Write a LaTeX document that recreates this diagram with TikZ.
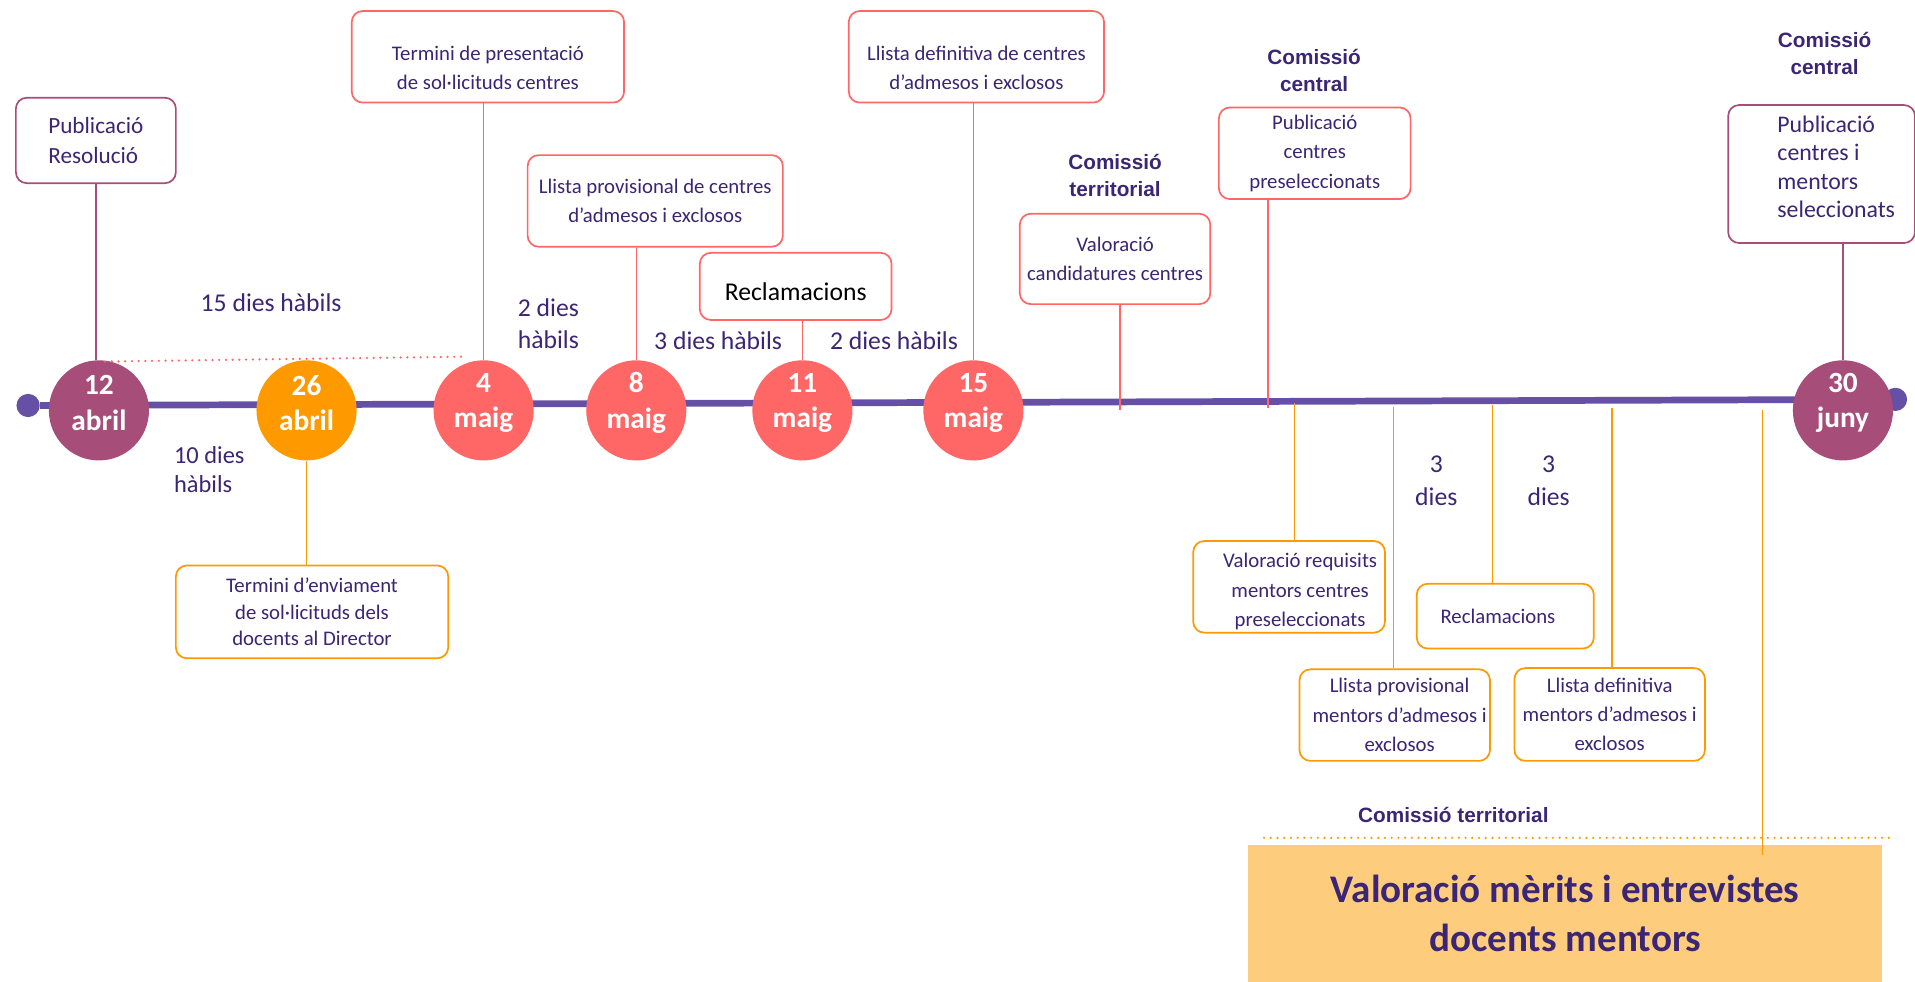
\documentclass[tikz,border=0pt]{standalone}
\usepackage{fontspec}
\setmainfont{Carlito}
\newfontfamily\arialfont{Liberation Sans}
\usetikzlibrary{calc}

\definecolor{tlpurple}{RGB}{101,80,166}
\definecolor{txtpurple}{RGB}{58,38,116}
\definecolor{plum}{RGB}{166,77,121}
\definecolor{salmon}{RGB}{255,102,102}
\definecolor{orng}{RGB}{255,153,0}
\definecolor{lightorng}{RGB}{253,204,125}

\begin{document}
\begin{tikzpicture}[x=1pt,y=-1pt,
  day/.style={circle,minimum size=82pt,inner sep=0pt},
  daytxt/.style={text=white,align=center,yshift=6pt,font=\fontsize{24}{29}\selectfont\bfseries},
  evt/.style={rectangle,rounded corners=9pt,draw,line width=1.4pt,fill=white,text=txtpurple,align=center,inner sep=2pt,font=\fontsize{17}{24}\selectfont},
  evtxt/.style={text=txtpurple,align=center,font=\fontsize{17}{24}\selectfont},
  dur/.style={text=txtpurple,align=center,font=\fontsize{21}{26}\selectfont},
  com/.style={text=txtpurple,align=center,font=\arialfont\bfseries\fontsize{17}{22}\selectfont},
  lnk/.style={line width=1.3pt},
  dots/.style={line width=2pt,line cap=round,dash pattern=on 0pt off 5.5pt}]
\useasboundingbox (0,0) rectangle (1568,804);
\draw (23,332) node (tstart) [circle,fill=tlpurple,minimum size=19pt,inner sep=0pt] {};
\draw (1552,327) node (tend) [circle,fill=tlpurple,minimum size=19pt,inner sep=0pt] {};
\draw [tlpurple,line width=5.5pt] (tstart) -- (tend);
\coordinate (tv) at (917,336);
\coordinate (tp) at (1038,334);
\coordinate (ta) at (1060,330);
\coordinate (tb) at (1141,333);
\coordinate (tc) at (1222,332);
\coordinate (td) at (1320,334);
\coordinate (te) at (1443,336);
\coordinate (dotA) at (86,296);
\coordinate (dotB) at (382,292);
\coordinate (dotC) at (1035,686);
\coordinate (dotD) at (1548,686);
\draw (81,336) node (d12) [day,fill=plum,label={[daytxt,name=d12-t]center:{12\\abril}}] {};
\draw (251,336) node (d26) [day,fill=orng,label={[daytxt,name=d26-t]center:{26\\abril}}] {};
\draw (396,336) node (d4) [day,fill=salmon,label={[daytxt,name=d4-t]center:{4\\maig}}] {};
\draw (521,336) node (d8) [day,fill=salmon,label={[daytxt,name=d8-t]center:{8\\maig}}] {};
\draw (657,336) node (d11) [day,fill=salmon,label={[daytxt,name=d11-t]center:{11\\maig}}] {};
\draw (797,336) node (d15) [day,fill=salmon,label={[daytxt,name=d15-t]center:{15\\maig}}] {};
\draw (1509,336) node (d30) [day,fill=plum,label={[daytxt,name=d30-t]center:{30\\juny}}] {};
\draw (78.5,115) node (pubres) [evt,draw=plum,minimum width=131pt,minimum height=70pt,align=left,font=\fontsize{19}{24}\selectfont] {Publicació\\Resolució};
\draw (399.5,46.5) node (terpre) [evt,draw=salmon,minimum width=223pt,minimum height=75pt,label={[evtxt,name=terpre-t,yshift=-9pt]center:{Termini de presentació\\de sol·licituds centres}}] {};
\draw (536.5,164.5) node (llprov) [evt,draw=salmon,minimum width=209pt,minimum height=75pt] {Llista provisional de centres\\d’admesos i exclosos};
\draw (651.5,234.5) node (recl) [evt,draw=salmon,minimum width=157pt,minimum height=55pt,label={[text=black,font=\fontsize{21}{24}\selectfont,name=recl-t,yshift=-4pt]center:Reclamacions}] {};
\draw (799.5,46.5) node (lldef) [evt,draw=salmon,minimum width=209pt,minimum height=75pt,label={[evtxt,name=lldef-t,yshift=-9pt]center:{Llista definitiva de centres\\d’admesos i exclosos}}] {};
\draw (913,212) node (valcand) [evt,draw=salmon,minimum width=156pt,minimum height=74pt] {Valoració\\candidatures centres};
\draw (1076.5,125.5) node (pubpre) [evt,draw=salmon,minimum width=157pt,minimum height=75pt] {Publicació\\centres\\preseleccionats};
\draw (1491.5,142.5) node (pubsel) [evt,draw=plum,minimum width=153pt,minimum height=113pt,label={[evtxt,align=left,font=\fontsize{19.5}{23.3}\selectfont,name=pubsel-t,xshift=12pt,yshift=6pt]center:{Publicació\\centres i\\mentors\\seleccionats}}] {};
\draw (255.5,501) node (terenv) [evt,draw=orng,minimum width=223pt,minimum height=76pt,font=\fontsize{17}{22}\selectfont] {Termini d’enviament\\de sol·licituds dels\\docents al Director};
\draw (1055.5,480.5) node (valreq) [evt,draw=orng,minimum width=157pt,minimum height=75pt,label={[evtxt,name=valreq-t,xshift=9pt,yshift=-4pt]center:{Valoració requisits\\mentors centres\\preseleccionats}}] {};
\draw (1142,585.5) node (llprovm) [evt,draw=orng,minimum width=156pt,minimum height=75pt,label={[evtxt,name=llprovm-t,xshift=4pt]center:{Llista provisional\\mentors d’admesos i\\exclosos}}] {};
\draw (1232.5,504.5) node (reclm) [evt,draw=orng,minimum width=145pt,minimum height=53pt,label={[evtxt,name=reclm-t,xshift=-6pt]center:Reclamacions}] {};
\draw (1318,585) node (lldefm) [evt,draw=orng,minimum width=156pt,minimum height=76pt] {Llista definitiva\\mentors d’admesos i\\exclosos};
\draw (1281.5,748) node (merits) [fill=lightorng,minimum width=519pt,minimum height=112pt,text=txtpurple,align=center,font=\fontsize{32}{40}\selectfont\bfseries] {Valoració mèrits i entrevistes\\docents mentors};
\draw [lnk,plum] (pubres.south) -- (pubres.south |- d12.north);
\draw [lnk,salmon] (d4.north) -- (d4.north |- terpre.south);
\draw [lnk,salmon] (d8.north) -- (d8.north |- llprov.south);
\draw [lnk,salmon] (d11.north) -- (d11.north |- recl.south);
\draw [lnk,salmon] (d15.north) -- (d15.north |- lldef.south);
\draw [lnk,salmon] (valcand.south -| tv) -- (tv);
\draw [lnk,salmon] (pubpre.south -| tp) -- (tp);
\draw [lnk,plum] (d30.north) -- (d30.north |- pubsel.south);
\draw [lnk,orng] (d26.south) -- (d26.south |- terenv.north);
\draw [lnk,orng] (ta) -- (ta |- valreq.north);
\draw [lnk,orng] (tb) -- (tb |- llprovm.north);
\draw [lnk,orng] (tc) -- (tc |- reclm.north);
\draw [lnk,orng] (td) -- (td |- lldefm.north);
\draw [lnk,orng] (te) -- ($(te |- merits.north)+(0,8)$);
\draw [dots,salmon] (dotA) -- (dotB);
\draw [dots,orng] (dotC) -- (dotD);
\draw (222,248) node (dur15) [dur] {15 dies hàbils};
\draw (449,265) node (dur2a) [dur] {2 dies\\hàbils};
\draw (139,384.5) node (dur10) [dur,anchor=west,align=left,font=\fontsize{20}{23}\selectfont] {10 dies\\hàbils};
\draw (588,279) node (dur3a) [dur] {3 dies hàbils};
\draw (732,279) node (dur2b) [dur] {2 dies hàbils};
\draw (1176,393.5) node (dur3b) [dur,font=\fontsize{21}{27}\selectfont] {3\\dies};
\draw (1268,393.5) node (dur3c) [dur,font=\fontsize{21}{27}\selectfont] {3\\dies};
\draw (913,144) node (comter) [com] {Comissió\\territorial};
\draw (1076,58) node (comcen) [com] {Comissió\\central};
\draw (1494,44) node (comcen2) [com] {Comissió\\central};
\draw (1190,667) node (comter2) [com] {Comissió territorial};
\end{tikzpicture}
\end{document}
